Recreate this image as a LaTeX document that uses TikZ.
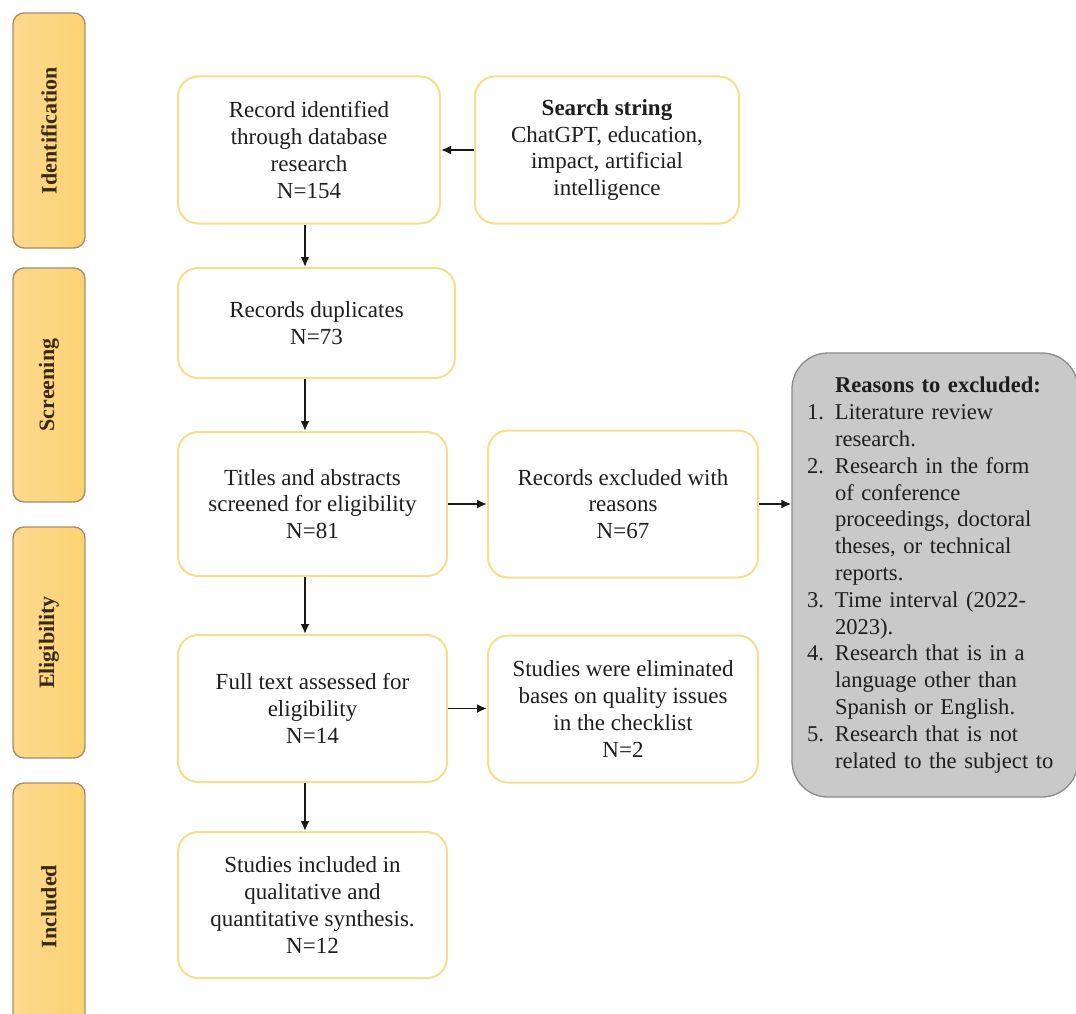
\documentclass[tikz,border=0pt]{standalone}
\usepackage{fontspec}
\setmainfont{Liberation Serif}
\usetikzlibrary{arrows.meta,calc}
\definecolor{phasefillA}{HTML}{FBD98F}
\definecolor{phasefillB}{HTML}{FDD272}
\definecolor{phaseedge}{HTML}{A38F68}
\definecolor{boxedge}{HTML}{F6DE8E}
\definecolor{reasonfill}{HTML}{C9C9C9}
\definecolor{reasonedge}{HTML}{8A8A8A}
\definecolor{txt}{HTML}{1E1E1E}
\definecolor{phasetxt}{HTML}{3A2A12}
\begin{document}
\begin{tikzpicture}[x=1pt,y=-1pt,
  phasebox/.style={draw=phaseedge, line width=1.4pt, rounded corners=11pt,
    left color=phasefillA, right color=phasefillB, rotate=90,
    minimum height=72pt, inner sep=0pt,
    font=\fontsize{22}{26}\selectfont\bfseries, text=phasetxt},
  flowbox/.style={draw=boxedge, line width=2pt, fill=white, rounded corners=20pt,
    align=center, inner sep=0pt, font=\fontsize{23}{26.7}\selectfont, text=txt},
  reasonbox/.style={draw=reasonedge, line width=1.3pt, fill=reasonfill, rounded corners=36pt,
    align=left, inner sep=0pt, font=\fontsize{22.6}{26.8}\selectfont, text=txt},
  arr/.style={-{Latex[length=10pt,width=9pt]}, line width=1.8pt, draw=black!90}
]
\useasboundingbox (0,0) rectangle (1076,1014);

% phase boxes
\node[phasebox, minimum width=235pt] (p1) at (49,130.5) {Identification};
\node[phasebox, minimum width=234pt] (p2) at (49,385) {Screening};
\node[phasebox, minimum width=231pt] (p3) at (49,642.5) {Eligibility};
\node[phasebox, minimum width=247pt] (p4) at (49,906.5) {Included};

% flow boxes
\node[flowbox, minimum width=262pt, minimum height=147pt] (A) at (309,150)
  {Record identified\\through database\\research\\N=154};
\node[flowbox, minimum width=264pt, minimum height=147pt] (S) at (607,150)
  {\textbf{Search string}\\ChatGPT, education,\\impact, artificial\\intelligence};
\node[flowbox, minimum width=277pt, minimum height=110pt] (B) at (316.5,323)
  {Records duplicates\\N=73};
\node[flowbox, minimum width=269pt, minimum height=144pt] (C) at (312.5,504)
  {Titles and abstracts\\screened for eligibility\\N=81};
\node[flowbox, minimum width=270pt, minimum height=147pt] (R) at (623,504)
  {Records excluded with\\reasons\\N=67};
\node[flowbox, minimum width=269pt, minimum height=147pt] (D) at (312.5,708.5)
  {Full text assessed for\\eligibility\\N=14};
\node[flowbox, minimum width=270pt, minimum height=147pt] (Q) at (623,709)
  {Studies were eliminated\\bases on quality issues\\in the checklist\\N=2};
\node[flowbox, minimum width=269pt, minimum height=146pt] (E) at (312.5,905)
  {Studies included in\\qualitative and\\quantitative synthesis.\\N=12};

\node[reasonbox, minimum width=286pt, minimum height=444pt, text width=256pt] (X) at (935,575)
  {\hspace*{28pt}\textbf{Reasons to excluded:}\\
   \makebox[28pt][l]{1.}Literature review\\
   \hspace*{28pt}research.\\
   \makebox[28pt][l]{2.}Research in the form\\
   \hspace*{28pt}of conference\\
   \hspace*{28pt}proceedings, doctoral\\
   \hspace*{28pt}theses, or technical\\
   \hspace*{28pt}reports.\\
   \makebox[28pt][l]{3.}Time interval (2022-\\
   \hspace*{28pt}2023).\\
   \makebox[28pt][l]{4.}Research that is in a\\
   \hspace*{28pt}language other than\\
   \hspace*{28pt}Spanish or English.\\
   \makebox[28pt][l]{5.}Research that is not\\
   \hspace*{28pt}related to the subject to};

% connectors
\coordinate (colx) at (305,0);
\draw[arr] (S.west) -- (A.east);
\draw[arr] (A.south -| colx) -- (B.north -| colx);
\draw[arr] (B.south -| colx) -- (C.north -| colx);
\draw[arr] (C.east) -- (R.west);
\draw[arr] (R.east) -- (R.east -| X.west);
\draw[arr] (C.south -| colx) -- (D.north -| colx);
\draw[arr] (D.east) -- (D.east -| Q.west);
\draw[arr] (D.south -| colx) -- (E.north -| colx);
\end{tikzpicture}
\end{document}
